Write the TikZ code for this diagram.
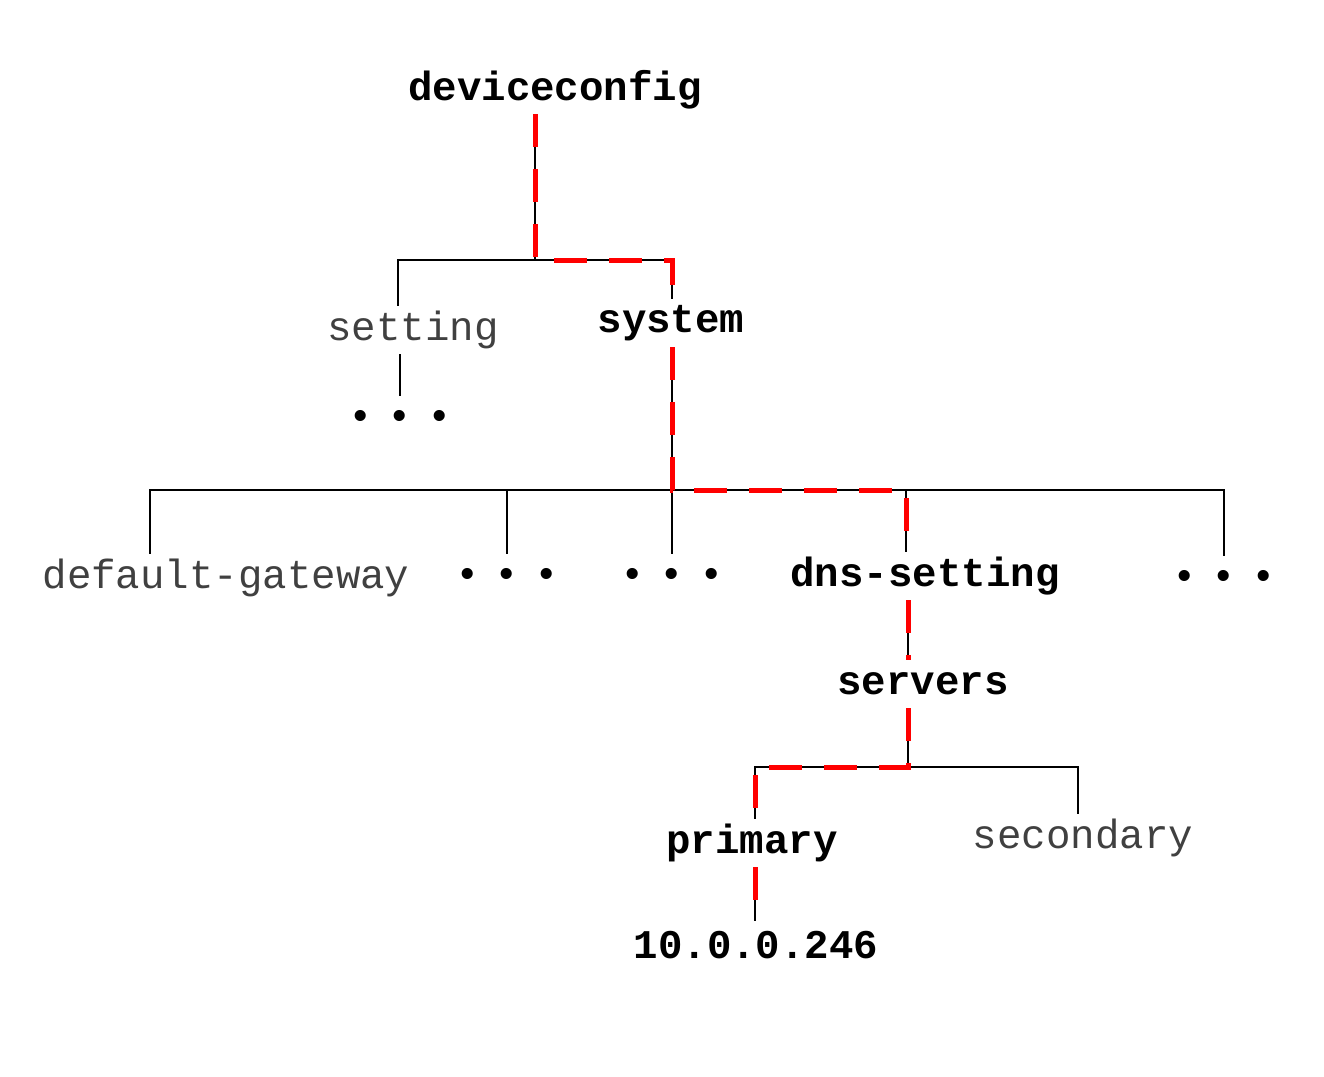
\documentclass[tikz,border=0pt]{standalone}
\usepackage{fontspec}
\setmonofont{Liberation Mono}
\usepackage{tikz}
\usetikzlibrary{calc}

\definecolor{routered}{RGB}{255,0,0}
\definecolor{leafgray}{RGB}{64,64,64}

\begin{document}
\begin{tikzpicture}[x=0.02cm,y=-0.02cm,
   every node/.style={inner sep=0pt,minimum height=0.96cm,
     font=\ttfamily\fontsize{23.2}{28}\selectfont},
   keynode/.style={text=black,font=\ttfamily\bfseries\fontsize{23.2}{28}\selectfont},
   leafnode/.style={text=leafgray},
   dotsnode/.style={text=black},
   tree/.style={draw=black,line width=0.04cm},
   route/.style={draw=routered,line width=0.1cm,dash pattern=on 0.66cm off 0.44cm}]
   \useasboundingbox (0,0) rectangle (1324,1076);
   % labels
   \node[keynode] (deviceconfig) at (555,90) {deviceconfig};
   \node[leafnode] (setting) at (413,330) {setting};
   \node[keynode] (system) at (671,323) {system};
   \node[dotsnode] (sdots) at (400,420) {•\kern0.3cm•\kern0.3cm•};
   \node[leafnode] (gateway) at (226,578) {default-gateway};
   \node[dotsnode] (dotsA) at (507,578) {•\kern0.3cm•\kern0.3cm•};
   \node[dotsnode] (dotsB) at (672,578) {•\kern0.3cm•\kern0.3cm•};
   \node[keynode] (dns) at (925,576) {dns-setting};
   \node[dotsnode] (dotsC) at (1224,580) {•\kern0.3cm•\kern0.3cm•};
   \node[keynode] (servers) at (923,684) {servers};
   \node[keynode] (primary) at (752,843) {primary};
   \node[leafnode] (secondary) at (1083,838) {secondary};
   \node[keynode] (address) at (756,945) {10.0.0.246};
   % junctions
   \coordinate (j1) at (535,260);
   \coordinate (j1l) at (398,260);
   \coordinate (j1r) at (672,260);
   \coordinate (j2) at (672,490);
   \coordinate (b1) at (150,490);
   \coordinate (b4) at (906,490);
   \coordinate (b5) at (1224,490);
   \coordinate (j3) at (908,767);
   \coordinate (c1) at (755,767);
   \coordinate (c2) at (1078,767);
   % tree
   \draw[tree] (deviceconfig.south -| j1) -- (j1);
   \draw[tree] (setting.north -| j1l) |- (j1r) -- (system.north -| j1r);
   \draw[tree] (setting.south -| sdots.north) -- (sdots.north);
   \draw[tree] (system.south -| j2) -- (j2);
   \draw[tree] (gateway.north -| b1) |- (b5) -- (dotsC.north);
   \draw[tree] (dotsA.north) -- (dotsA.north |- j2);
   \draw[tree] (dotsB.north) -- (dotsB.north |- j2);
   \draw[tree] (b4) -- (dns.north -| b4);
   \draw[tree] (dns.south -| j3) -- (servers.north -| j3);
   \draw[tree] (servers.south -| j3) -- (j3);
   \draw[tree] (primary.north -| c1) |- (c2) -- (secondary.north -| c2);
   \draw[tree] (primary.south -| c1) -- (address.north -| c1);
   % highlighted path
   \draw[route] (deviceconfig.south -| j1) -- (j1) -- (j1r) -- (system.north -| j1r);
   \draw[route] (system.south -| j2) -- (j2) -- (b4) -- (dns.north -| b4);
   \draw[route] (dns.south -| j3) -- (servers.north -| j3);
   \draw[route] (servers.south -| j3) -- (j3) -- (c1) -- (primary.north -| c1);
   \draw[route] (primary.south -| c1) -- (address.north -| c1);
\end{tikzpicture}
\end{document}
